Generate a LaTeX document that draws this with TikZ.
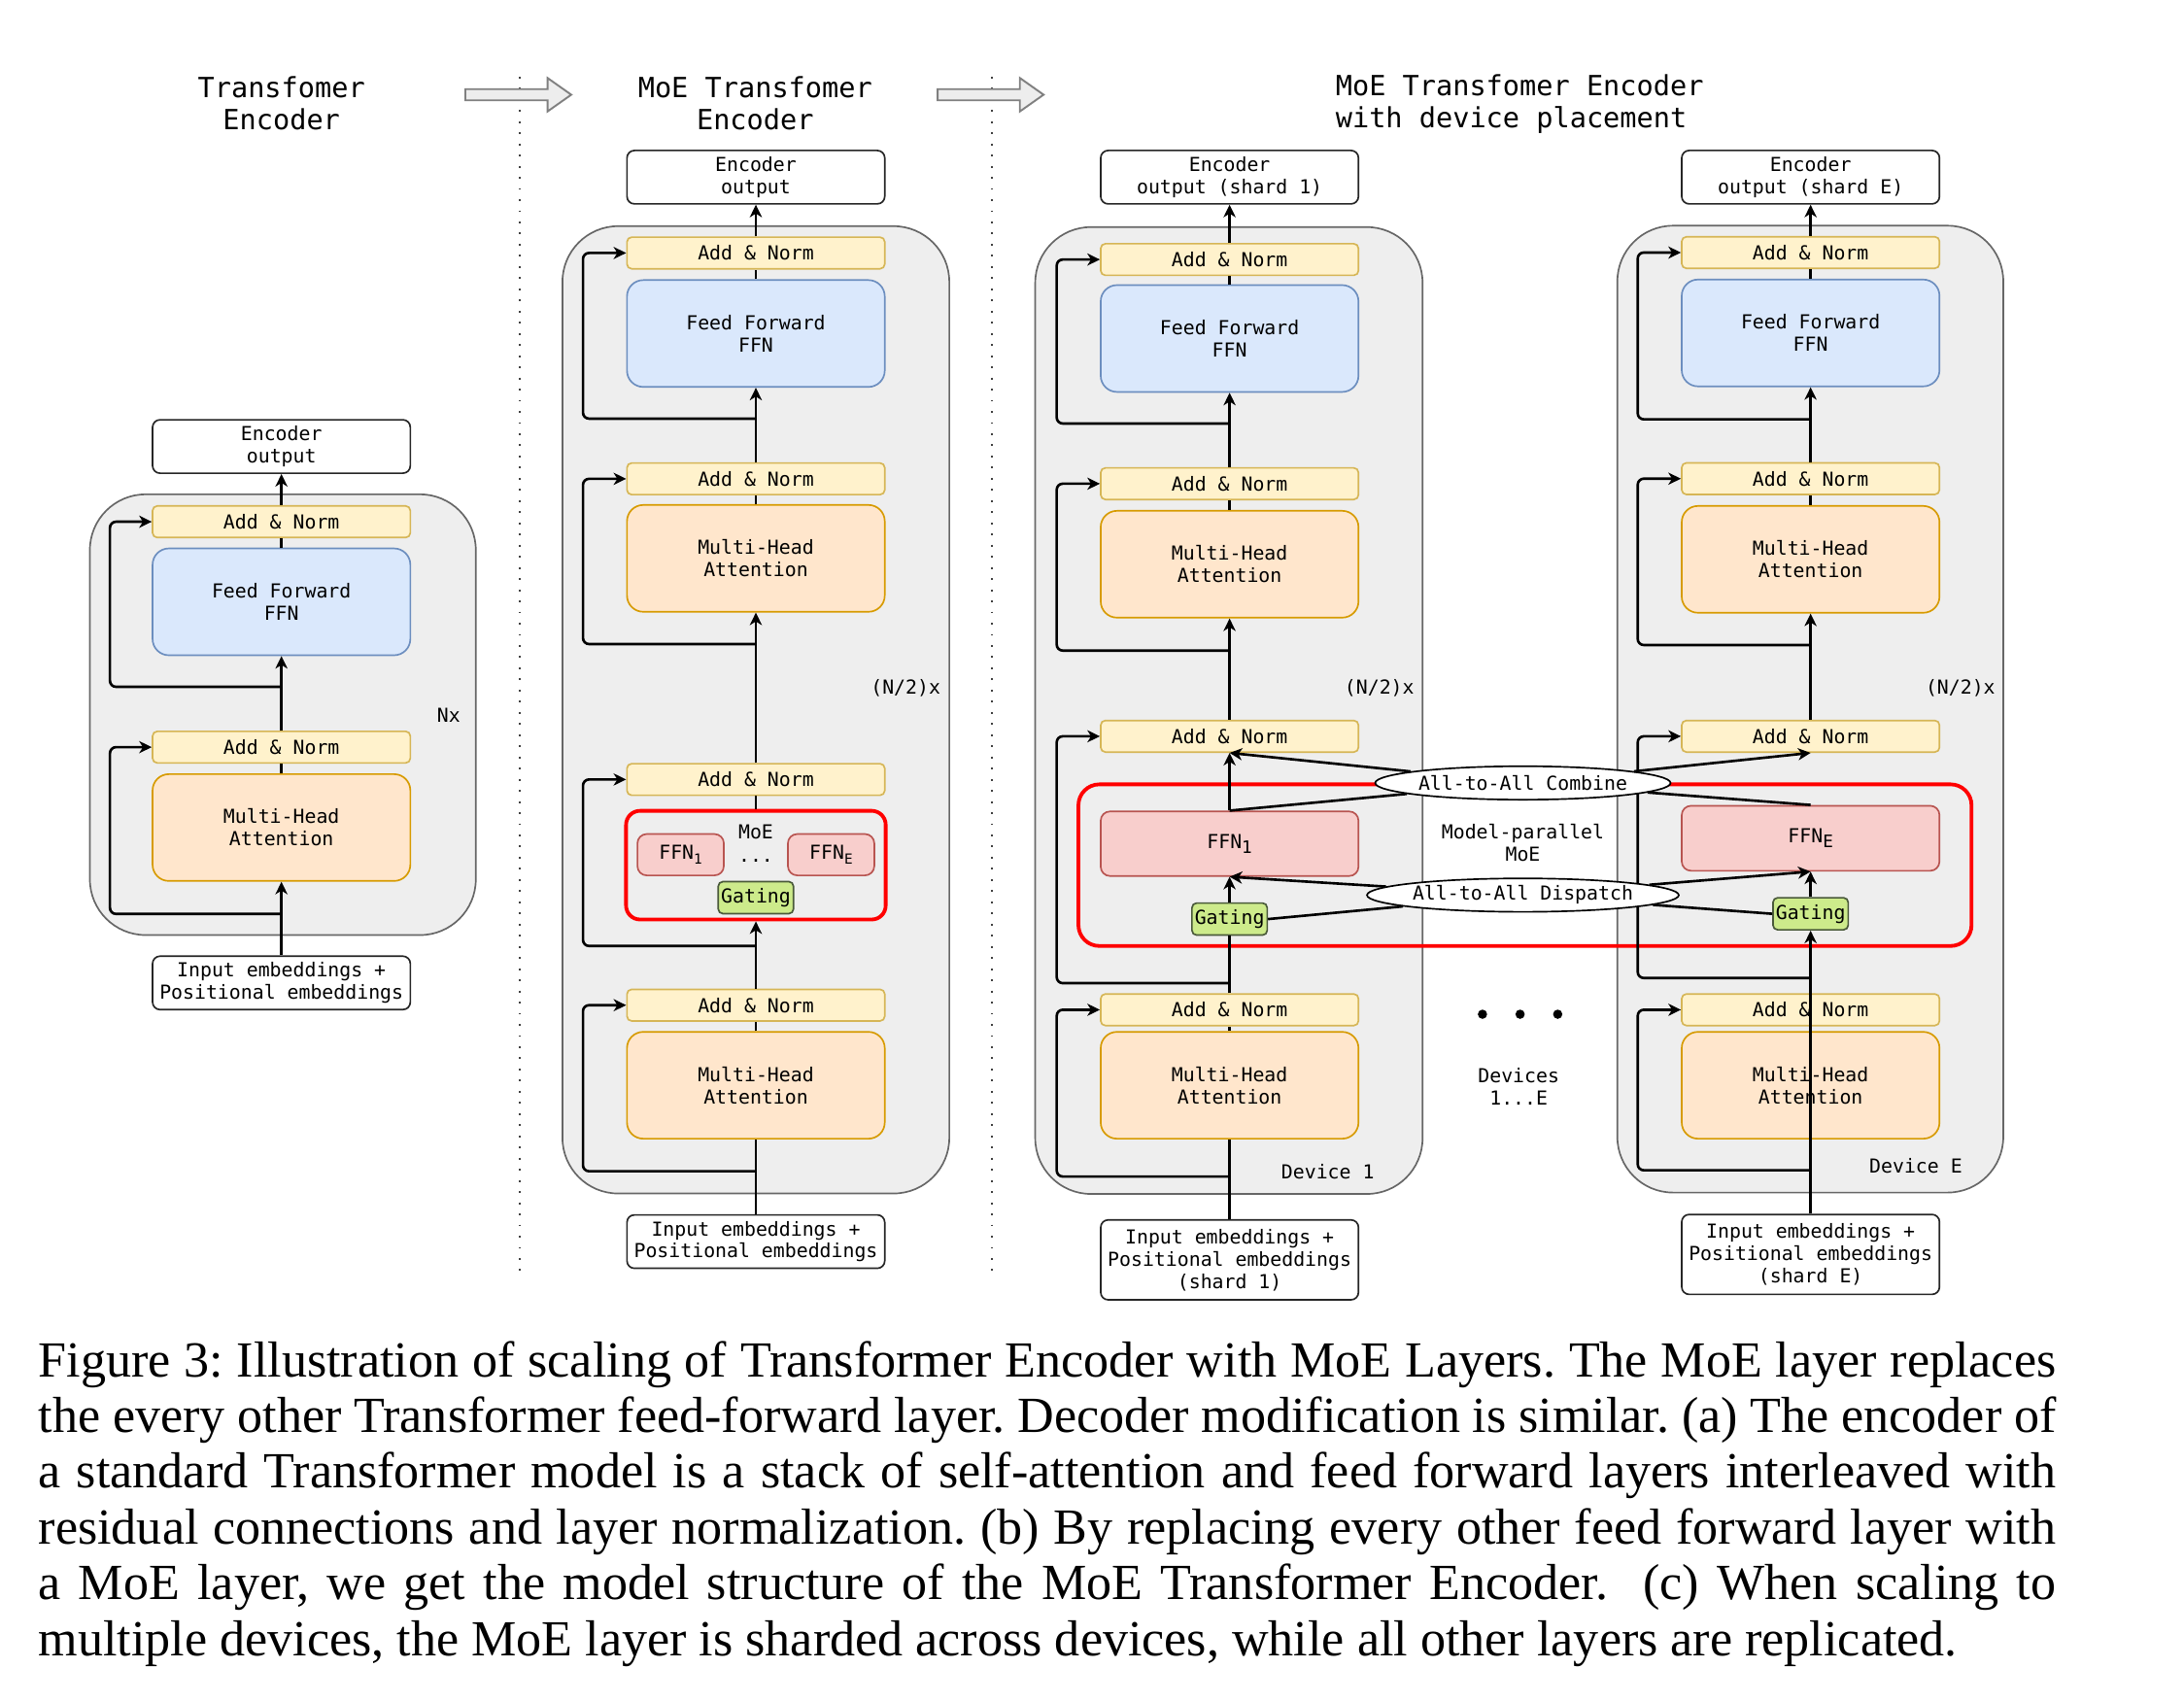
\documentclass[tikz,border=0pt]{standalone}
\usepackage{fontspec}
\usepackage{graphicx}
\setmainfont{Liberation Serif}
\newfontfamily\dmono{DejaVu Sans Mono}
\usetikzlibrary{arrows.meta,calc,shapes.geometric}
\definecolor{anfill}{HTML}{FFF2CC}\definecolor{andraw}{HTML}{D6B656}
\definecolor{fffill}{HTML}{DAE8FC}\definecolor{ffdraw}{HTML}{6C8EBF}
\definecolor{mhfill}{HTML}{FFE6CC}\definecolor{mhdraw}{HTML}{D79B00}
\definecolor{exfill}{HTML}{F8CECC}\definecolor{exdraw}{HTML}{B85450}
\definecolor{gtfill}{HTML}{CDEB8B}\definecolor{gtdraw}{HTML}{4A5A3A}
\definecolor{ctfill}{HTML}{EEEEEE}\definecolor{ctdraw}{HTML}{666666}
\definecolor{moered}{HTML}{FF0000}
\newcommand\esub[2]{\raisebox{-0.45ex}{\fontsize{#1}{#1}\selectfont #2}}
\tikzset{
  bx/.style={draw, line width=0.35pt, font=\dmono\fontsize{4.15}{4.8}\selectfont, align=center, inner sep=0pt, minimum width=55.5pt},
  addnorm/.style={bx, fill=anfill, draw=andraw, minimum height=6.8pt, rounded corners=1pt},
  ffnbox/.style={bx, fill=fffill, draw=ffdraw, minimum height=23pt, rounded corners=3.5pt},
  mhabox/.style={bx, fill=mhfill, draw=mhdraw, minimum height=23pt, rounded corners=3.5pt},
  iobox/.style={bx, fill=white, draw=black!85, minimum height=11.5pt, rounded corners=1.6pt},
  expert/.style={bx, fill=exfill, draw=exdraw, rounded corners=2pt},
  gatebox/.style={bx, fill=gtfill, draw=gtdraw, rounded corners=1pt, minimum width=16.2pt, minimum height=6.9pt},
  container/.style={draw=ctdraw, fill=ctfill, line width=0.35pt, rounded corners=12pt, inner sep=0pt},
  moebox/.style={draw=moered, line width=0.8pt, inner sep=0pt},
  a2a/.style={ellipse, draw=black, fill=white, line width=0.35pt, font=\dmono\fontsize{4.15}{4.8}\selectfont, inner sep=0pt, minimum width=55.2pt, minimum height=7.2pt},
  conn/.style={line width=0.55pt, draw=black},
  arr/.style={conn, -{Stealth[length=2.7pt,width=2.6pt,inset=0.8pt]}},
  res/.style={arr, rounded corners=1.3pt},
  lbl/.style={font=\dmono\fontsize{4.15}{4.8}\selectfont, inner sep=0pt, align=center},
  ttl/.style={font=\dmono\fontsize{5.98}{6.9}\selectfont, inner sep=0pt},
  sepline/.style={draw=black!75, line width=0.4pt, dotted},
  blockarrow/.style={draw=black!50, fill=black!7, line width=0.4pt, line join=miter}
}
\begin{document}
\begin{tikzpicture}[x=0.3pt, y=-0.3pt]
\useasboundingbox (0,0) rectangle (1567.5,1221.6);

% separators and block arrows
\coordinate (s1t) at (373,55); \coordinate (s1b) at (373,917);
\coordinate (s2t) at (712,55); \coordinate (s2b) at (712,917);
\draw[sepline] (s1t) -- (s1b);
\draw[sepline] (s2t) -- (s2b);
\draw[blockarrow] (334,64) -- (393,64) -- (393,56) -- (410,68) -- (393,80) -- (393,72) -- (334,72) -- cycle;
\draw[blockarrow] (673,64) -- (732,64) -- (732,56) -- (749,68) -- (732,80) -- (732,72) -- (673,72) -- cycle;

% ===== (a) Transformer encoder =====
\node[ttl, align=center] (aT) at (202,74.5) {Transfomer\\Encoder};
\node[container, minimum width=83.1pt, minimum height=94.9pt] (aC) at (203,513) {};
\node[iobox] (aO) at (202,320.5) {Encoder\\output};
\node[addnorm] (aA2) at (202,374.5) {Add \& Norm};
\node[ffnbox] (aF) at (202,432) {Feed Forward\\FFN};
\node[addnorm] (aA1) at (202,536.3) {Add \& Norm};
\node[mhabox] (aM) at (202,594) {Multi-Head\\Attention};
\node[iobox] (aI) at (202,705.5) {Input embeddings +\\Positional embeddings};
\node[lbl] (aN) at (322,513.5) {Nx};
\coordinate (aR1) at (202,656);
\coordinate (aR2) at (202,493);
\draw[arr] (aI.north) -- (aM.south);
\draw[conn] (aM.north) -- (aA1.south);
\draw[arr] (aA1.north) -- (aF.south);
\draw[conn] (aF.north) -- (aA2.south);
\draw[arr] (aA2.north) -- (aO.south);
\draw[res] (aR1) -| ($(aA1.west)+(-30,0)$) -- (aA1.west);
\draw[res] (aR2) -| ($(aA2.west)+(-30,0)$) -- (aA2.west);

% ===== (b) MoE Transformer encoder =====
\node[ttl, align=center] (bT) at (542,74.5) {MoE Transfomer\\Encoder};
\node[container, minimum width=83.3pt, minimum height=208.3pt] (bC) at (542.5,509.5) {};
\node[iobox] (bO) at (542.5,127.2) {Encoder\\output};
\node[addnorm] (bA4) at (542.5,181.6) {Add \& Norm};
\node[ffnbox] (bF) at (542.5,239.4) {Feed Forward\\FFN};
\node[addnorm] (bA3) at (542.5,343.7) {Add \& Norm};
\node[mhabox] (bM2) at (542.5,400.8) {Multi-Head\\Attention};
\node[lbl] (bN) at (650,494) {(N/2)x};
\node[addnorm] (bA2) at (542.5,559.5) {Add \& Norm};
\node[moebox, rounded corners=3pt, minimum width=55.9pt, minimum height=23.4pt] (bMoE) at (542.5,621) {};
\node[lbl] (bMoEl) at (542.5,597.4) {MoE};
\node[expert, minimum width=18.6pt, minimum height=8.9pt] (bE1) at (488.5,613.5) {FFN\esub{3}{1}};
\node[expert, minimum width=18.6pt, minimum height=8.9pt] (bEE) at (596.5,613.5) {FFN\esub{3}{E}};
\node[lbl] (bDots) at (542.5,618) {...};
\node[gatebox] (bG) at (542.5,644.3) {Gating};
\node[addnorm] (bA1) at (542.5,721.5) {Add \& Norm};
\node[mhabox] (bM1) at (542.5,779) {Multi-Head\\Attention};
\node[iobox] (bI) at (542.5,891.2) {Input embeddings +\\Positional embeddings};
\coordinate (bR1) at (542.5,840.7);
\coordinate (bR2) at (542.5,679);
\coordinate (bR3) at (542.5,462.3);
\coordinate (bR4) at (542.5,300.5);
\draw[conn] (bI.north) -- (bM1.south);
\draw[conn] (bM1.north) -- (bA1.south);
\draw[arr] (bA1.north) -- (bMoE.south);
\draw[conn] (bMoE.north) -- (bA2.south);
\draw[arr] (bA2.north) -- (bM2.south);
\draw[conn] (bM2.north) -- (bA3.south);
\draw[arr] (bA3.north) -- (bF.south);
\draw[conn] (bF.north) -- (bA4.south);
\draw[arr] (bA4.north) -- (bO.south);
\draw[res] (bR1) -| ($(bA1.west)+(-31,0)$) -- (bA1.west);
\draw[res] (bR2) -| ($(bA2.west)+(-31,0)$) -- (bA2.west);
\draw[res] (bR3) -| ($(bA3.west)+(-31,0)$) -- (bA3.west);
\draw[res] (bR4) -| ($(bA4.west)+(-31,0)$) -- (bA4.west);

% ===== (c) device placement =====
\node[ttl, align=left, anchor=west] (cT) at (958,74.5) {MoE Transfomer Encoder\\with device placement};
\node[container, minimum width=83.4pt, minimum height=208.2pt] (dC) at (882,510) {};
\node[container, minimum width=83.1pt, minimum height=208.2pt] (eC) at (1299.3,509) {};
\node[moebox, rounded corners=4.5pt, minimum width=192.3pt, minimum height=34.8pt] (cMoE) at (1094.5,621) {};

% device 1
\node[iobox] (dO) at (882.5,127.2) {Encoder\\output (shard 1)};
\node[addnorm] (dA4) at (882.5,186.3) {Add \& Norm};
\node[ffnbox] (dF) at (882.5,243) {Feed Forward\\FFN};
\node[addnorm] (dA3) at (882.5,347.2) {Add \& Norm};
\node[mhabox] (dM2) at (882.5,405) {Multi-Head\\Attention};
\node[lbl] (dN) at (990,494) {(N/2)x};
\node[addnorm] (dA2) at (882.5,528.5) {Add \& Norm};
\node[expert, minimum height=13.9pt] (dX) at (882.5,605.6) {FFN\esub{3.7}{1}};
\node[gatebox] (dG) at (882.5,659.7) {Gating};
\node[addnorm] (dA1) at (882.5,724.8) {Add \& Norm};
\node[mhabox] (dM1) at (882.5,779) {Multi-Head\\Attention};
\node[lbl] (dL) at (953,841) {Device 1};
\node[iobox, minimum height=17.2pt] (dI) at (882.5,904.3) {Input embeddings +\\Positional embeddings\\(shard 1)};
\coordinate (dR1) at (882.5,844.5);
\coordinate (dR2) at (882.5,705.7);
\coordinate (dR3) at (882.5,467);
\coordinate (dR4) at (882.5,304);
\draw[conn] (dI.north) -- (dM1.south);
\draw[conn] (dM1.north) -- (dA1.south);
\draw[conn] (dA1.north) -- (dG.south);
\draw[arr] (dG.north) -- (dX.south);
\draw[arr] (dX.north) -- (dA2.south);
\draw[arr] (dA2.north) -- (dM2.south);
\draw[conn] (dM2.north) -- (dA3.south);
\draw[arr] (dA3.north) -- (dF.south);
\draw[conn] (dF.north) -- (dA4.south);
\draw[arr] (dA4.north) -- (dO.south);
\draw[res] (dR1) -| ($(dA1.west)+(-31,0)$) -- (dA1.west);
\draw[res] (dR2) -| ($(dA2.west)+(-31,0)$) -- (dA2.west);
\draw[res] (dR3) -| ($(dA3.west)+(-31,0)$) -- (dA3.west);
\draw[res] (dR4) -| ($(dA4.west)+(-31,0)$) -- (dA4.west);

% device E
\node[iobox] (eO) at (1299.5,127.2) {Encoder\\output (shard E)};
\node[addnorm] (eA4) at (1299.5,181.3) {Add \& Norm};
\node[ffnbox] (eF) at (1299.5,239) {Feed Forward\\FFN};
\node[addnorm] (eA3) at (1299.5,343.6) {Add \& Norm};
\node[mhabox] (eM2) at (1299.5,401.5) {Multi-Head\\Attention};
\node[lbl] (eN) at (1407,494) {(N/2)x};
\node[addnorm] (eA2) at (1299.5,528.5) {Add \& Norm};
\node[expert, minimum height=14pt] (eX) at (1299.5,601.7) {FFN\esub{3.7}{E}};
\node[gatebox] (eG) at (1299.5,655.9) {Gating};
\node[addnorm] (eA1) at (1299.5,724.8) {Add \& Norm};
\node[mhabox] (eM1) at (1299.5,779) {Multi-Head\\Attention};
\node[lbl] (eL) at (1375,837) {Device E};
\node[iobox, minimum height=17.2pt] (eI) at (1299.5,900.4) {Input embeddings +\\Positional embeddings\\(shard E)};
\coordinate (eR1) at (1299.5,840);
\coordinate (eR2) at (1299.5,702);
\coordinate (eR3) at (1299.5,463);
\coordinate (eR4) at (1299.5,301);
\draw[arr] (eI.north) -- (eG.south);
\draw[arr] (eG.north) -- (eX.south);
\draw[arr] (eA2.north) -- (eM2.south);
\draw[conn] (eM2.north) -- (eA3.south);
\draw[arr] (eA3.north) -- (eF.south);
\draw[conn] (eF.north) -- (eA4.south);
\draw[arr] (eA4.north) -- (eO.south);
\draw[res] (eR1) -| ($(eA1.west)+(-31,0)$) -- (eA1.west);
\draw[res] (eR2) -| ($(eA2.west)+(-31,0)$) -- (eA2.west);
\draw[res] (eR3) -| ($(eA3.west)+(-31,0)$) -- (eA3.west);
\draw[res] (eR4) -| ($(eA4.west)+(-31,0)$) -- (eA4.west);

% all-to-all
\node[a2a] (comb) at (1093,562) {All-to-All Combine};
\node[a2a] (disp) at (1093,642.5) {All-to-All Dispatch};
\draw[conn] (dX.north) -- (comb);
\draw[arr] (comb) -- (dA2.south);
\draw[conn] (eX.north) -- (comb);
\draw[arr] (comb) -- (eA2.south);
\draw[conn] (dG.east) -- (disp);
\draw[arr] (disp) -- (dX.south);
\draw[conn] (eG.west) -- (disp);
\draw[arr] (disp) -- (eX.south);
\node[lbl] (mpl) at (1093,605) {Model-parallel\\MoE};

% devices dots
\fill (1064,728) circle (1pt) coordinate (dot1);
\fill (1091,728) circle (1pt) coordinate (dot2);
\fill (1118,728) circle (1pt) coordinate (dot3);
\node[lbl] (devs) at (1090,780) {Devices\\1...E};

% caption
\node[anchor=north west, inner sep=0pt, text width=434.4pt, align=justify, font=\fontsize{10.9}{12}\selectfont] (cap) at (27,962) {%
\tolerance=9999\relax\hyphenpenalty=10000\relax\frenchspacing
Figure 3: Illustration of scaling of Transformer Encoder with MoE Layers. The MoE layer replaces\linebreak
the every other Transformer feed-forward layer. Decoder modification is similar. (a) The encoder of\linebreak
a standard Transformer model is a stack of self-attention and feed forward layers interleaved with\linebreak
residual connections and layer normalization. (b) By replacing every other feed forward layer with\linebreak
a MoE layer, we get the model structure of the MoE Transformer Encoder.\ \ (c) When scaling to\linebreak
multiple devices, the MoE layer is sharded across devices, while all other layers are replicated.\par};
\end{tikzpicture}
\end{document}
